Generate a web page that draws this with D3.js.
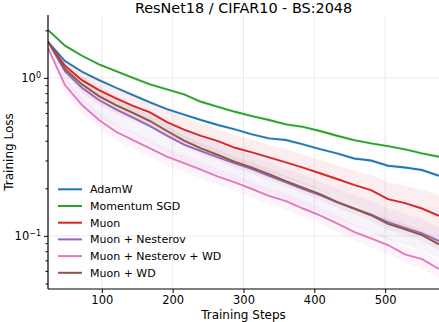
<!DOCTYPE html>
<meta charset="utf-8">
<style>
  body { margin: 0; background: #fff; }
  svg text { font-family: "DejaVu Sans", sans-serif; fill: #000; }
</style>
<svg id="chart" width="439" height="322"></svg>

<script src="https://cdn.jsdelivr.net/npm/d3@7"></script>
<script>
  // training steps (one point per epoch)
  var steps = [24, 48, 72, 96, 120, 144, 168, 192, 216, 240, 264, 288,
               312, 336, 360, 384, 408, 432, 456, 480, 504, 528, 552, 576];

  var names = ["AdamW", "Momentum SGD", "Muon", "Muon + Nesterov", "Muon + Nesterov + WD", "Muon + WD"];
  var colors = ["#1f77b4", "#2ca02c", "#d62728", "#9467bd", "#e377c2", "#8c564b"];

  // mean training loss
  var adamw = [1.692, 1.277, 1.093, 0.968, 0.866, 0.778, 0.700, 0.635, 0.586, 0.541, 0.503, 0.472,
               0.439, 0.414, 0.404, 0.379, 0.354, 0.333, 0.309, 0.300, 0.278, 0.271, 0.261, 0.240];
  var sgd = [2.01, 1.60, 1.380, 1.217, 1.104, 1.00, 0.910, 0.846, 0.786, 0.706, 0.656, 0.610,
             0.573, 0.541, 0.508, 0.490, 0.461, 0.430, 0.404, 0.385, 0.370, 0.353, 0.333, 0.317];
  var muon = [1.692, 1.193, 0.968, 0.837, 0.742, 0.666, 0.605, 0.525, 0.471, 0.430, 0.398, 0.361,
              0.338, 0.314, 0.292, 0.270, 0.249, 0.229, 0.210, 0.195, 0.171, 0.161, 0.149, 0.134];
  var muonNest = [1.692, 1.104, 0.866, 0.724, 0.632, 0.561, 0.495, 0.431, 0.378, 0.344, 0.314, 0.288,
                  0.265, 0.240, 0.218, 0.198, 0.181, 0.163, 0.149, 0.137, 0.122, 0.1125, 0.1037, 0.0927];
  var muonNestWd = [1.544, 0.900, 0.673, 0.541, 0.456, 0.404, 0.358, 0.317, 0.289, 0.263, 0.237, 0.218,
                    0.198, 0.179, 0.166, 0.149, 0.135, 0.120, 0.106, 0.0964, 0.0875, 0.0764, 0.0713, 0.0617];
  var muonWd = [1.692, 1.137, 0.910, 0.767, 0.673, 0.601, 0.533, 0.461, 0.401, 0.358, 0.325, 0.294,
                0.270, 0.246, 0.222, 0.202, 0.184, 0.164, 0.149, 0.135, 0.119, 0.110, 0.101, 0.0884];

  // std over seeds (shaded bands)
  var adamwStd = [0.02, 0.02, 0.02, 0.02, 0.02, 0.02, 0.015, 0.015, 0.015, 0.012, 0.012, 0.012,
                  0.01, 0.01, 0.01, 0.01, 0.01, 0.008, 0.008, 0.008, 0.008, 0.008, 0.008, 0.008];
  var sgdStd = [0.02, 0.03, 0.03, 0.03, 0.03, 0.03, 0.03, 0.02, 0.02, 0.02, 0.02, 0.02,
                0.02, 0.02, 0.015, 0.015, 0.015, 0.015, 0.012, 0.012, 0.012, 0.01, 0.01, 0.01];
  var muonStd = [0.03, 0.12, 0.16, 0.16, 0.15, 0.13, 0.12, 0.105, 0.094, 0.086, 0.08, 0.072,
                 0.068, 0.064, 0.06, 0.057, 0.054, 0.051, 0.049, 0.048, 0.046, 0.047, 0.047, 0.047];
  var muonNestStd = [0.03, 0.15, 0.17, 0.16, 0.14, 0.12, 0.11, 0.095, 0.083, 0.076, 0.069, 0.063,
                     0.058, 0.053, 0.048, 0.044, 0.04, 0.036, 0.033, 0.03, 0.027, 0.025, 0.023, 0.021];
  var muonNestWdStd = [0.03, 0.1, 0.08, 0.065, 0.055, 0.048, 0.043, 0.038, 0.035, 0.032, 0.028, 0.026,
                       0.024, 0.021, 0.02, 0.018, 0.016, 0.014, 0.013, 0.012, 0.011, 0.009, 0.009, 0.008];
  var muonWdStd = [0.03, 0.09, 0.07, 0.06, 0.054, 0.048, 0.043, 0.037, 0.032, 0.029, 0.026, 0.024,
                   0.022, 0.02, 0.018, 0.016, 0.015, 0.013, 0.012, 0.011, 0.01, 0.009, 0.008, 0.007];

  var xTicks = [100, 200, 300, 400, 500];
  var yTicks = [0.1, 1];
  var yMinor = [0.05, 0.06, 0.07, 0.08, 0.09, 0.2, 0.3, 0.4, 0.5, 0.6, 0.7, 0.8, 0.9, 2];

  var means = [adamw, sgd, muon, muonNest, muonNestWd, muonWd];
  var stds = [adamwStd, sgdStd, muonStd, muonNestStd, muonNestWdStd, muonWdStd];

  // plot box (note: "top" is taken by window.top)
  var box = { left: 48, right: 439, top: 15, bottom: 289 };

  var svg = d3.select("#chart");

  var x = d3.scaleLinear().domain([24, 576]).range([box.left, box.right]);
  var y = d3.scaleLog().domain([0.0461, 2.50]).range([box.bottom, box.top]);

  // grid
  svg.append("g").selectAll("line").data(xTicks).enter().append("line")
    .attr("x1", function (d) { return x(d) }).attr("x2", function (d) { return x(d) })
    .attr("y1", box.top).attr("y2", box.bottom)
    .style("stroke", "#e6e6e6").style("stroke-width", 0.8);
  svg.append("g").selectAll("line").data(yTicks).enter().append("line")
    .attr("x1", box.left).attr("x2", box.right)
    .attr("y1", function (d) { return y(d) }).attr("y2", function (d) { return y(d) })
    .style("stroke", "#e6e6e6").style("stroke-width", 0.8);

  // clip everything to the plot box
  svg.append("clipPath").attr("id", "clip").append("rect")
    .attr("x", box.left).attr("y", box.top)
    .attr("width", box.right - box.left).attr("height", box.bottom - box.top);
  var plot = svg.append("g").attr("clip-path", "url(#clip)");

  // bands
  var area = d3.area()
    .x(function (d) { return x(d.s) })
    .y0(function (d) { return y(Math.max(d.m - d.sd, 0.001)) })
    .y1(function (d) { return y(d.m + d.sd) });

  var line = d3.line()
    .x(function (d) { return x(d.s) })
    .y(function (d) { return y(d.m) });

  var series = means.map(function (m, i) {
    return steps.map(function (s, j) { return { s: s, m: m[j], sd: stds[i][j] } });
  });

  plot.selectAll(".band").data(series).enter().append("path")
    .attr("d", area)
    .style("fill", function (d, i) { return colors[i] })
    .style("opacity", 0.08);

  plot.selectAll(".curve").data(series).enter().append("path")
    .attr("d", line)
    .style("fill", "none")
    .style("stroke", function (d, i) { return colors[i] })
    .style("stroke-width", 1.9);

  // axes
  var xAxis = svg.append("g")
    .attr("transform", "translate(0," + box.bottom + ")")
    .call(d3.axisBottom(x).tickValues(xTicks).tickSize(4).tickPadding(3).tickFormat(d3.format("d")));
  xAxis.select(".domain").attr("d", "M" + box.left + ",0H" + box.right).style("stroke-width", 1.2);
  xAxis.selectAll("text").style("font-size", "11.5px");

  svg.append("g")
    .attr("transform", "translate(" + box.left + ",0)")
    .call(d3.axisLeft(y).tickValues(yMinor).tickSize(2.5).tickFormat(""))
    .select(".domain").remove();

  var yAxis = svg.append("g")
    .attr("transform", "translate(" + box.left + ",0)")
    .call(d3.axisLeft(y).tickValues(yTicks).tickSize(4).tickPadding(3).tickFormat(""));
  yAxis.select(".domain").attr("d", "M0," + box.top + "V" + box.bottom).style("stroke-width", 1.2);
  yAxis.selectAll(".tick text").each(function (d) {
    var t = d3.select(this).style("font-size", "11.5px");
    t.text("10");
    t.append("tspan").attr("dy", "-0.5em").style("font-size", "8px")
      .text(d === 1 ? "0" : "\u22121");
  });

  // title and labels
  svg.append("text").attr("x", (box.left + box.right) / 2).attr("y", 12.5)
    .attr("text-anchor", "middle").style("font-size", "14.4px")
    .text("ResNet18 / CIFAR10 - BS:2048");
  svg.append("text").attr("x", (box.left + box.right) / 2).attr("y", 318.5)
    .attr("text-anchor", "middle").style("font-size", "12px")
    .text("Training Steps");
  svg.append("text")
    .attr("transform", "translate(13," + (box.top + box.bottom) / 2 + ") rotate(-90)")
    .attr("text-anchor", "middle").style("font-size", "12px")
    .text("Training Loss");

  // legend
  var legend = svg.append("g").selectAll("g").data(names).enter().append("g")
    .attr("transform", function (d, i) { return "translate(58," + (189.3 + i * 16.7) + ")" });
  legend.append("line").attr("x1", 0).attr("x2", 24)
    .style("stroke", function (d, i) { return colors[i] }).style("stroke-width", 2);
  legend.append("text").attr("x", 32).attr("dy", "0.35em")
    .style("font-size", "11px")
    .text(function (d) { return d });
</script>
